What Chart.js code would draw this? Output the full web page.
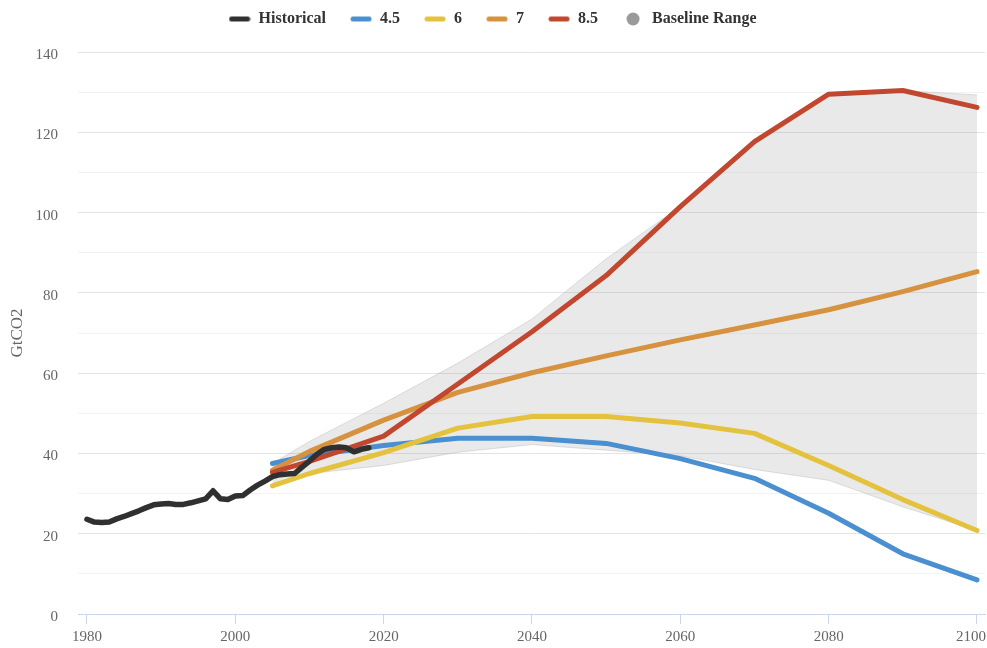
<!DOCTYPE html>
<html>
<head>
<meta charset="utf-8">
<script src="https://cdn.jsdelivr.net/npm/chart.js@4"></script>
<style>
  html, body { margin: 0; padding: 0; background: #ffffff; }
  #wrap { width: 987px; height: 648px; }
</style>
</head>
<body>
<div id="wrap"><canvas id="c" width="987" height="648"></canvas></div>
<script>
// ---------- data ----------
const histYears = [1980,1981,1982,1983,1984,1985,1986,1987,1988,1989,1990,1991,1992,1993,1994,1995,1996,1997,1998,1999,2000,2001,2002,2003,2004,2005,2006,2007,2008,2009,2010,2011,2012,2013,2014,2015,2016,2017,2018];
const histValues = [23.6,22.9,22.8,22.9,23.7,24.3,25.0,25.7,26.5,27.2,27.4,27.5,27.3,27.3,27.7,28.2,28.7,30.7,28.7,28.5,29.4,29.5,30.9,32.1,33.1,34.2,34.7,34.9,35.0,36.6,38.1,39.8,41.0,41.4,41.6,41.4,40.4,41.0,41.4];

const scenYears = [2005,2010,2020,2030,2040,2050,2060,2070,2080,2090,2100];
const rcp45 = [37.5,39.5,42.0,43.8,43.8,42.5,38.7,33.8,25.1,15.0,8.5];
const rcp6  = [31.9,35.0,40.2,46.3,49.2,49.2,47.6,45.0,37.0,28.5,20.8];
const rcp7  = [35.8,40.5,48.3,55.2,60.1,64.3,68.3,72.0,75.8,80.3,85.3];
const rcp85 = [35.3,38.0,44.3,57.3,70.3,84.3,101.5,117.7,129.5,130.4,126.2];
const baselineLow  = [32.0,35.0,37.0,40.3,42.2,40.8,39.4,36.0,33.3,26.7,20.8];
const baselineHigh = [37.5,43.0,52.5,62.5,73.5,88.5,101.5,117.7,129.5,130.4,129.3];

const xTickValues = [1980,2000,2020,2040,2060,2080,2100];
const yTickValues = [0,10,20,30,40,50,60,70,80,90,100,110,120,130,140];

const seriesNames = ['Historical','4.5','6','7','8.5','Baseline Range'];
const seriesColors = ['#303030','#4a8fd0','#e5c23d','#d6923f','#c1472f','#9a9a9a'];

// ---------- helpers ----------
const pts = (xs, ys) => xs.map((x, i) => ({ x: x, y: ys[i] }));
function lineIcon(color) {
  const c = document.createElement('canvas');
  c.width = 22; c.height = 7;
  const g = c.getContext('2d');
  g.strokeStyle = color; g.lineWidth = 5; g.lineCap = 'round';
  g.beginPath(); g.moveTo(3, 3.5); g.lineTo(19, 3.5); g.stroke();
  return c;
}
function dotIcon(color) {
  const c = document.createElement('canvas');
  c.width = 14; c.height = 14;
  const g = c.getContext('2d');
  g.fillStyle = color;
  g.beginPath(); g.arc(7, 7, 6.5, 0, Math.PI * 2); g.fill();
  return c;
}

const SERIF = "'Liberation Serif', 'Times New Roman', serif";

const lineDs = (label, xs, ys, color, width, order) => ({
  label: label,
  data: pts(xs, ys),
  borderColor: color,
  backgroundColor: color,
  borderWidth: width,
  borderCapStyle: 'round',
  borderJoinStyle: 'round',
  pointRadius: 0,
  pointHoverRadius: 0,
  pointStyle: lineIcon(color),
  tension: 0,
  fill: false,
  order: order
});

const datasets = [
  lineDs(seriesNames[0], histYears, histValues, seriesColors[0], 5.5, 0),
  lineDs(seriesNames[1], scenYears, rcp45, seriesColors[1], 5, 4),
  lineDs(seriesNames[2], scenYears, rcp6, seriesColors[2], 5, 3),
  lineDs(seriesNames[3], scenYears, rcp7, seriesColors[3], 5, 2),
  lineDs(seriesNames[4], scenYears, rcp85, seriesColors[4], 5, 1),
  {
    label: seriesNames[5],
    data: pts(scenYears, baselineHigh),
    borderColor: 'rgba(170,170,170,0.35)',
    borderWidth: 1,
    backgroundColor: 'rgba(150,150,150,0.21)',
    pointRadius: 0,
    pointHoverRadius: 0,
    pointStyle: dotIcon(seriesColors[5]),
    tension: 0,
    fill: { target: 6 },
    order: 6
  },
  {
    label: 'lower',
    data: pts(scenYears, baselineLow),
    borderColor: 'rgba(170,170,170,0.35)',
    borderWidth: 1,
    pointRadius: 0,
    pointHoverRadius: 0,
    tension: 0,
    fill: false,
    order: 7
  }
];

const LEGEND_HEIGHT = 65;
const layoutPlugin = {
  id: 'layoutTweaks',
  beforeLayout(chart) {
    const lg = chart.legend;
    if (lg && !lg._patchedFit) {
      const orig = lg.fit;
      lg.fit = function () { orig.call(this); this.height = LEGEND_HEIGHT; };
      lg._patchedFit = true;
    }
  },
  beforeDraw(chart) {
    const xs = chart.scales.x;
    const items = xs.getLabelItems(chart.chartArea);
    if (items.length) {
      const it = items[items.length - 1];
      it.options.translation = [986, it.options.translation[1]];
      it.options.textAlign = 'right';
    }
  }
};

new Chart(document.getElementById('c'), {
  type: 'line',
  data: { datasets: datasets },
  plugins: [layoutPlugin],
  options: {
    responsive: false,
    animation: false,
    devicePixelRatio: 1,
    layout: { padding: { top: -13, right: 2, bottom: 0, left: 0 } },
    plugins: {
      tooltip: { enabled: false },
      legend: {
        display: true,
        position: 'top',
        labels: {
          usePointStyle: true,
          pointStyleWidth: 22,
          padding: 24,
          color: '#333333',
          font: { family: SERIF, size: 16, weight: 'bold' },
          filter: (item) => item.text !== 'lower',
          sort: (a, b) => a.datasetIndex - b.datasetIndex
        }
      }
    },
    scales: {
      x: {
        type: 'linear',
        min: 1978.79,
        max: 2101.08,
        afterBuildTicks: (s) => { s.ticks = xTickValues.map(v => ({ value: v })); },
        afterFit: (s) => { s.height = 34; s.paddingLeft = 0; s.paddingRight = 0; },
        grid: {
          display: true,
          drawOnChartArea: false,
          drawTicks: true,
          tickLength: 10,
          color: '#ccd6eb'
        },
        border: { display: true, color: '#ccd6eb', width: 1 },
        ticks: {
          autoSkip: false,
          maxRotation: 0,
          padding: 4,
          color: '#666666',
          font: { family: SERIF, size: 15 },
          callback: (v) => String(v)
        }
      },
      y: {
        type: 'linear',
        min: 0,
        max: 140,
        afterBuildTicks: (s) => { s.ticks = yTickValues.map(v => ({ value: v })); },
        afterFit: (s) => { s.width = 78; s.paddingTop = 0; s.paddingBottom = 0; },
        grid: {
          drawTicks: false,
          color: (ctx) => (ctx.tick && ctx.tick.value % 20 === 0) ? '#e3e3e3' : '#f3f3f3',
          lineWidth: 1
        },
        border: { display: false },
        ticks: {
          autoSkip: false,
          padding: 20,
          labelOffset: 3,
          color: '#666666',
          font: { family: SERIF, size: 15 },
          callback: (v) => (v % 20 === 0 ? String(v) : '')
        },
        title: {
          display: true,
          text: 'GtCO2',
          color: '#666666',
          font: { family: SERIF, size: 17 },
          padding: { top: 7, bottom: 0 }
        }
      }
    }
  }
});
</script>
</body>
</html>
